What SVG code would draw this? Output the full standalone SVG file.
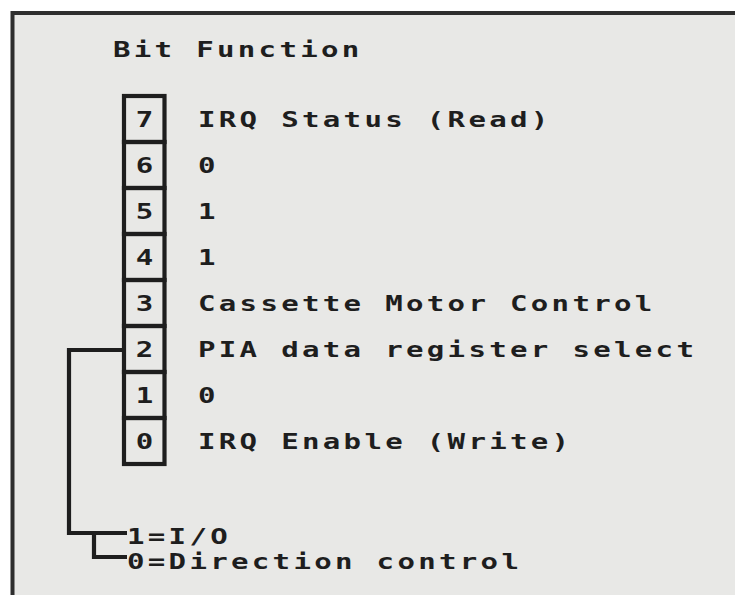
<svg xmlns="http://www.w3.org/2000/svg" width="735" height="595" viewBox="0 0 735 595">
<style>
  .frame{fill:#e8e8e6;stroke:#2e2e2e;stroke-width:4}
  .cell{fill:none;stroke:#1e1e1e;stroke-width:4.2}
  .wire{fill:none;stroke:#1e1e1e;stroke-width:4.2}
  .t{font-family:"DejaVu Sans Mono","Liberation Mono",monospace;font-weight:bold;font-size:22px;letter-spacing:2.5px;fill:#1e1e1e}
  .d{font-family:"DejaVu Sans Mono","Liberation Mono",monospace;font-weight:bold;font-size:22px;fill:#1e1e1e;text-anchor:middle}
</style>
<rect x="0" y="0" width="735" height="595" fill="#ffffff"/>
<path class="frame" d="M12.5 600 V13 H745 V600 Z"/>
<text id="header" class="t" x="113" y="57" textLength="249.6" lengthAdjust="spacingAndGlyphs">Bit Function</text>
<g id="connectors">
  <path class="wire" d="M124 350 H69 V533 H127"/>
  <path class="wire" d="M94 533 V557 H127"/>
</g>
<g id="bit7"><rect class="cell" x="124" y="96" width="40.5" height="46"/><text class="d" x="144.5" y="127" textLength="17.5" lengthAdjust="spacingAndGlyphs">7</text><text class="t" x="198" y="127" textLength="353.6" lengthAdjust="spacingAndGlyphs">IRQ Status (Read)</text></g>
<g id="bit6"><rect class="cell" x="124" y="142" width="40.5" height="46"/><text class="d" x="144.5" y="173" textLength="17.5" lengthAdjust="spacingAndGlyphs">6</text><text class="t" x="198" y="173" textLength="20.8" lengthAdjust="spacingAndGlyphs">0</text></g>
<g id="bit5"><rect class="cell" x="124" y="188" width="40.5" height="46"/><text class="d" x="144.5" y="219" textLength="17.5" lengthAdjust="spacingAndGlyphs">5</text><text class="t" x="198" y="219" textLength="20.8" lengthAdjust="spacingAndGlyphs">1</text></g>
<g id="bit4"><rect class="cell" x="124" y="234" width="40.5" height="46"/><text class="d" x="144.5" y="265" textLength="17.5" lengthAdjust="spacingAndGlyphs">4</text><text class="t" x="198" y="265" textLength="20.8" lengthAdjust="spacingAndGlyphs">1</text></g>
<g id="bit3"><rect class="cell" x="124" y="280" width="40.5" height="46"/><text class="d" x="144.5" y="311" textLength="17.5" lengthAdjust="spacingAndGlyphs">3</text><text class="t" x="198" y="311" textLength="457.6" lengthAdjust="spacingAndGlyphs">Cassette Motor Control</text></g>
<g id="bit2"><rect class="cell" x="124" y="326" width="40.5" height="46"/><text class="d" x="144.5" y="357" textLength="17.5" lengthAdjust="spacingAndGlyphs">2</text><text class="t" x="198" y="357" textLength="499.2" lengthAdjust="spacingAndGlyphs">PIA data register select</text></g>
<g id="bit1"><rect class="cell" x="124" y="372" width="40.5" height="46"/><text class="d" x="144.5" y="403" textLength="17.5" lengthAdjust="spacingAndGlyphs">1</text><text class="t" x="198" y="403" textLength="20.8" lengthAdjust="spacingAndGlyphs">0</text></g>
<g id="bit0"><rect class="cell" x="124" y="418" width="40.5" height="46"/><text class="d" x="144.5" y="449" textLength="17.5" lengthAdjust="spacingAndGlyphs">0</text><text class="t" x="198" y="449" textLength="374.4" lengthAdjust="spacingAndGlyphs">IRQ Enable (Write)</text></g>
<g id="legend">
  <text class="t" x="127" y="544" textLength="104" lengthAdjust="spacingAndGlyphs">1=I/O</text>
  <text class="t" x="127" y="569" textLength="395.2" lengthAdjust="spacingAndGlyphs">0=Direction control</text>
</g>
</svg>
